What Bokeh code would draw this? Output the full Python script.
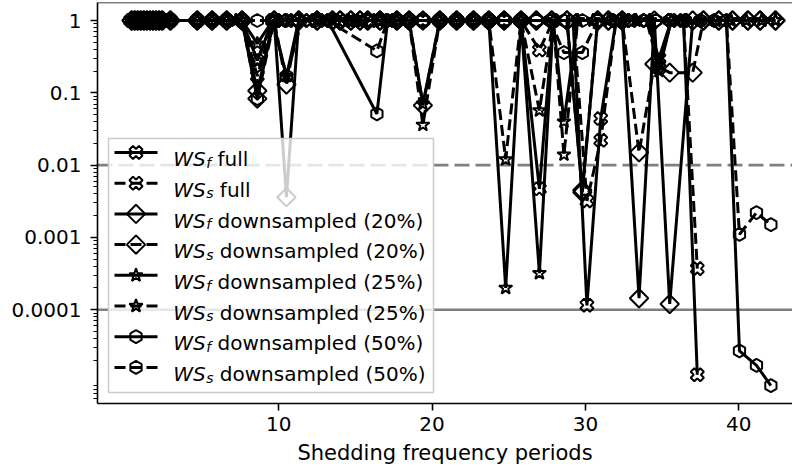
import math
from bokeh.plotting import figure
from bokeh.models import Range1d, Span, FixedTicker, CustomJSTickFormatter, LinearScale
from bokeh.core.properties import value
from bokeh.embed import file_html
from bokeh.resources import INLINE

# ---------------- data ----------------
full_x = [0.35, 0.45, 0.55, 0.65, 0.75, 0.85, 0.95, 1.05, 1.15, 1.25, 1.35, 1.45, 1.6, 1.75, 1.9, 2.05, 2.2, 2.35,
          2.93, 4.68, 5.65, 6.6, 7.6, 8.6, 9.6, 10.2, 11.0, 12.0, 13.0, 14.0, 14.7, 15.3, 16.0, 16.6, 17.2, 17.7, 18.5, 19.4,
          20.5, 21.6, 22.7, 23.7, 24.7, 25.8, 27.0, 27.9, 29.2, 30.1, 31.0, 32.0, 33.0, 34.0, 34.8, 35.6, 36.4, 37.3]
wsf_full = [1, 1, 1, 1, 1, 1, 1, 1, 1, 1, 1, 1, 1, 1, 1, 1, 1, 1,
            1, 1, 1, 1, 1, 0.28, 1, 1, 1, 1, 1, 1, 1, 1, 1, 1, 1, 1, 1, 1,
            1, 1, 1, 1, 1, 1, 0.0047, 1, 1, 0.000115, 0.044, 1, 1, 1, 0.3, 1, 1, 1.26e-5]
wss_full = [1, 1, 1, 1, 1, 1, 1, 1, 1, 1, 1, 1, 1, 1, 1, 1, 1, 1,
            1, 1, 1, 1, 1, 0.17, 1, 1, 1, 1, 1, 1, 1, 1, 1, 1, 1, 1, 1, 1,
            1, 1, 1, 1, 1, 1, 0.39, 1, 1, 0.0032, 0.022, 1, 1, 1, 0.22, 1, 1, 0.00037]

d20_x = [0.4, 0.6, 0.8, 1.0, 1.2, 1.4, 1.6, 1.8, 2.0, 2.2, 2.4,
         2.93, 4.68, 5.65, 6.6, 7.6, 8.6, 9.7, 10.5, 11.3, 12.5, 13.5, 14.0, 14.7, 15.3, 15.8, 16.6, 17.7, 18.5, 19.4,
         20.5, 21.6, 22.7, 23.7, 24.7, 25.8, 26.8, 27.8, 28.8, 29.8, 30.8, 31.5, 32.4, 33.5, 34.5, 35.5, 37.0, 37.7,
         38.7, 39.6, 40.6, 41.4, 42.4]
wsf_20 = [1, 1, 1, 1, 1, 1, 1, 1, 1, 1, 1,
          1, 1, 1, 1, 1, 0.107, 1, 0.0036, 1, 1, 1, 1, 1, 1, 1, 1, 1, 1, 1,
          1, 1, 1, 1, 1, 1, 1, 1, 1, 0.0042, 1, 1, 1, 0.000144, 1, 0.00012, 1, 1,
          1, 1, 1, 1, 1]
wss_20 = [1, 1, 1, 1, 1, 1, 1, 1, 1, 1, 1,
          1, 1, 1, 1, 1, 0.083, 1, 0.13, 1, 1, 1, 1, 1, 1, 1, 1, 1, 1, 0.067,
          1, 1, 1, 1, 1, 1, 1, 1, 1, 0.0045, 1, 1, 1, 0.015, 0.25, 0.19, 0.19, 1,
          1, 1, 1, 1, 1]

d25_x = [0.38, 0.58, 0.78, 0.98, 1.18, 1.38, 1.58, 1.78, 1.98, 2.18, 2.38,
         2.93, 4.68, 5.65, 6.6, 7.2, 7.6, 8.6, 9.6, 10.5, 11.5, 12.5, 13.5, 14.5, 15.5, 16.6, 17.7, 18.5, 19.4,
         20.5, 21.6, 22.7, 23.7, 24.8, 25.8, 27.0, 27.9, 28.6, 29.5, 30.5, 31.5, 32.4, 33.3, 34.2, 34.8, 35.6,
         36.5, 37.5, 38.5, 39.5, 40.5, 41.5, 42.4]
wsf_25 = [1, 1, 1, 1, 1, 1, 1, 1, 1, 1, 1,
          1, 1, 1, 1, 1, 1, 0.48, 1, 1, 1, 1, 1, 1, 1, 1, 1, 1, 0.07,
          1, 1, 1, 1, 0.0002, 1, 0.00032, 1, 0.04, 1, 1, 1, 1, 1, 1, 0.2, 1,
          1, 1, 1, 1, 1, 1, 1]
wss_25 = [1, 1, 1, 1, 1, 1, 1, 1, 1, 1, 1,
          1, 1, 1, 1, 1, 1, 0.28, 1, 0.17, 1, 1, 1, 1, 1, 1, 1, 1, 0.036,
          1, 1, 1, 1, 0.012, 1, 0.057, 1, 0.014, 1, 1, 1, 1, 1, 1, 0.25, 1,
          1, 1, 1, 1, 1, 1, 1]

d50_x = [0.42, 0.62, 0.82, 1.02, 1.22, 1.42, 1.62, 1.82, 2.02, 2.22, 2.42,
         2.93, 4.68, 5.65, 6.6, 7.6, 8.6, 9.6, 10.5, 11.3, 12.4, 13.2, 16.4, 17.1, 17.7, 18.5, 19.4,
         20.5, 21.6, 22.7, 23.7, 24.7, 25.8, 26.8, 27.7, 28.6, 29.8, 30.8, 31.8, 32.8, 33.8, 34.6, 35.5,
         36.5, 37.5, 38.4, 39.2, 40.05, 41.16, 42.1]
wsf_50 = [1, 1, 1, 1, 1, 1, 1, 1, 1, 1, 1,
          1, 1, 1, 1, 1, 0.083, 1, 0.17, 1, 1, 1, 0.051, 1, 1, 1, 1,
          1, 1, 1, 1, 1, 1, 1, 1, 1, 1, 1, 1, 1, 1, 1, 1,
          1, 1, 1, 1, 2.7e-5, 1.7e-5, 8.9e-6]
wss_50 = [1, 1, 1, 1, 1, 1, 1, 1, 1, 1, 1,
          1, 1, 1, 1, 1, 1, 1, 1, 1, 1, 1, 0.38, 1, 1, 1, 1,
          1, 1, 1, 1, 1, 1, 1, 1, 0.36, 0.36, 1, 1, 1, 1, 1, 1,
          1, 1, 1, 1, 0.0011, 0.0022, 0.0015]

threshold_dashed = 0.01
threshold_solid = 0.0001
y_ticks = [1, 0.1, 0.01, 0.001, 0.0001]
x_ticks = [10, 20, 30, 40]
x_label = "Shedding frequency periods"

legend_rows = [
    ("f", "full"), ("s", "full"),
    ("f", "downsampled (20%)"), ("s", "downsampled (20%)"),
    ("f", "downsampled (25%)"), ("s", "downsampled (25%)"),
    ("f", "downsampled (50%)"), ("s", "downsampled (50%)"),
]

# ---------------- figure ----------------
FONT = "DejaVu Sans"
W, H = 792, 472
ML, MR, MT, MB = 97, 0, 2, 69
FW, FH = W - ML - MR, H - MT - MB
Y_TOP = 10 ** 0.249

p = figure(width=W, height=H, output_backend="svg", toolbar_location=None,
           y_axis_type="log",
           x_range=Range1d(-1.826, 43.51),
           y_range=Range1d(10 ** -5.297, Y_TOP),
           min_border_left=ML, min_border_right=MR, min_border_top=MT,
           min_border_bottom=MB)
p.background_fill_color = "white"
p.border_fill_color = "white"
p.outline_line_color = None
p.xgrid.visible = False
p.ygrid.visible = False

minor = []
for k in range(-6, 1):
    for m in range(2, 10):
        minor.append(m * 10 ** k)
p.yaxis.ticker = FixedTicker(ticks=y_ticks, minor_ticks=minor)
p.yaxis.formatter = CustomJSTickFormatter(code="return Number(tick.toPrecision(3)).toString();")
p.xaxis.ticker = FixedTicker(ticks=x_ticks, minor_ticks=[])
p.xaxis.axis_label = x_label
for ax in (p.xaxis[0], p.yaxis[0]):
    ax.axis_line_width = 1.6
    ax.major_tick_line_width = 1.6
    ax.minor_tick_line_width = 1.2
    ax.major_tick_out = 7
    ax.major_tick_in = 0
    ax.minor_tick_out = 4
    ax.minor_tick_in = 0
    ax.major_label_text_font = FONT
    ax.major_label_text_font_size = "20px"
    ax.major_label_text_color = "black"
    ax.axis_label_text_font = FONT
    ax.axis_label_text_font_size = "21px"
    ax.axis_label_text_font_style = "normal"
    ax.axis_label_text_color = "black"
p.yaxis.major_label_standoff = 9
p.xaxis.major_label_standoff = 6
p.xaxis.axis_label_standoff = 7

# top spine (the right spine lies outside the picture)
p.add_layout(Span(location=Y_TOP, dimension="width", line_color="black", line_width=1.6))

p.add_layout(Span(location=threshold_dashed, dimension="width", line_color="#808080",
                  line_width=2.6, line_dash="15 6", level="underlay"))
p.add_layout(Span(location=threshold_solid, dimension="width", line_color="#808080",
                  line_width=2.6, level="underlay"))

LW = 3.0
DASH = "11 5"
MLW = 2.0
markers = {
    "X": dict(marker="plus", angle=math.pi / 4, size=13.5),
    "D": dict(marker="square", angle=math.pi / 4, size=13),
    "*": dict(marker="star", angle=0.0, size=14),
    "h": dict(marker="hex", angle=math.pi / 6, size=13),
}
series = [
    (full_x, wsf_full, "X", "solid"), (full_x, wss_full, "X", DASH),
    (d20_x, wsf_20, "D", "solid"), (d20_x, wss_20, "D", DASH),
    (d25_x, wsf_25, "*", "solid"), (d25_x, wss_25, "*", DASH),
    (d50_x, wsf_50, "h", "solid"), (d50_x, wss_50, "h", DASH),
]
for xs, ys, mk, dash in series:
    p.line(xs, ys, line_color="black", line_width=LW, line_dash=dash)
    p.scatter(xs, ys, fill_color=None, line_color="black", line_width=MLW, **markers[mk])

# ---------------- legend (drawn in frame pixel space) ----------------
p.extra_x_ranges = {"lx": Range1d(0, FW)}
p.extra_y_ranges = {"ly": Range1d(0, FH)}
p.extra_x_scales = {"lx": LinearScale()}
p.extra_y_scales = {"ly": LinearScale()}

box_l, box_r, box_b, box_t = 11, 336, 11, 265
p.quad(left=[box_l], right=[box_r], bottom=[box_b], top=[box_t],
       fill_color="white", fill_alpha=0.8, line_color="#cccccc", line_width=1.5,
       x_range_name="lx", y_range_name="ly")

row_top = FH - (152.0 - MT)
pitch = 30.7
h_x0, h_x1, h_mx = 17, 60, 38.5
ws_x = 75.7
em = 20.0
ws_w = (0.989 + 0.635) * em
sub_w = {"f": 0.352 * 14, "s": 0.521 * 14}
space = 0.318 * em
for i, (sub, rest) in enumerate(legend_rows):
    cy = row_top - i * pitch
    mk = series[i][2]
    dash = series[i][3]
    p.line([h_x0, h_x1], [cy, cy], line_color="black", line_width=LW, line_dash=dash,
           x_range_name="lx", y_range_name="ly")
    p.scatter([h_mx], [cy], fill_color=None, line_color="black", line_width=MLW,
              x_range_name="lx", y_range_name="ly", **markers[mk])
    base = cy - 6.7
    p.text([ws_x], [base], text=["WS"], text_font=value(FONT), text_font_size="20px",
           text_font_style="italic", text_baseline="alphabetic", text_align="left",
           text_color="black", x_range_name="lx", y_range_name="ly")
    sx = ws_x + ws_w + 0.5
    p.text([sx], [base - 3.5], text=[sub], text_font=value(FONT), text_font_size="14px",
           text_font_style="italic", text_baseline="alphabetic", text_align="left",
           text_color="black", x_range_name="lx", y_range_name="ly")
    rx = sx + sub_w[sub] + space
    p.text([rx], [base], text=[rest], text_font=value(FONT), text_font_size="20px",
           text_baseline="alphabetic", text_align="left",
           text_color="black", x_range_name="lx", y_range_name="ly")

open("out.html", "w").write(file_html(p, INLINE))
